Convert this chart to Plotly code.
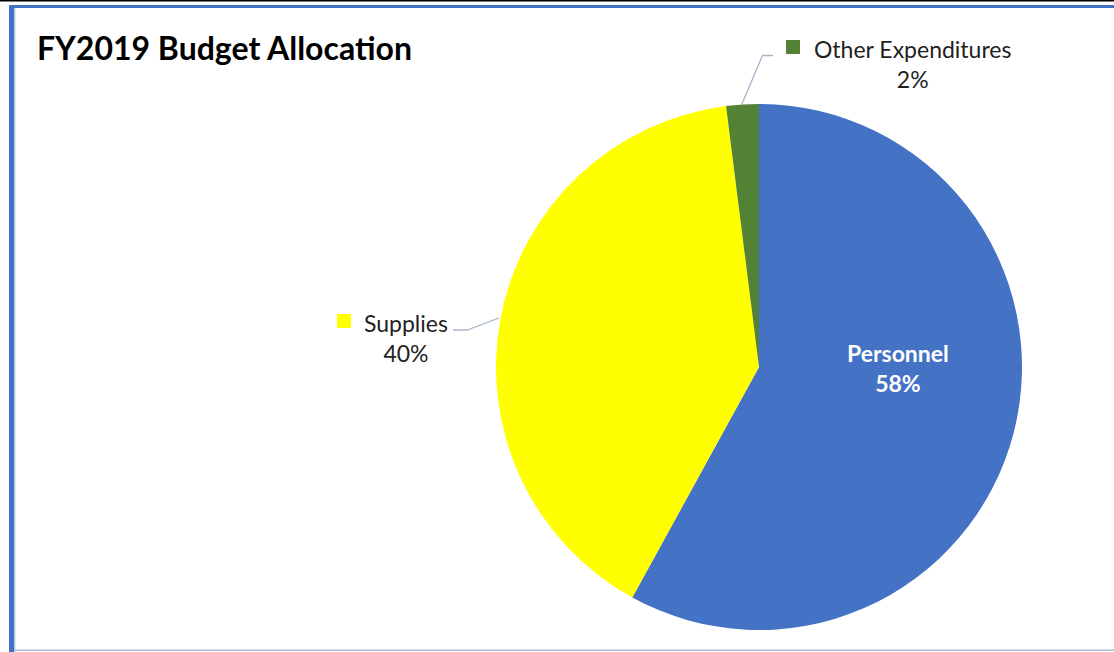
import plotly.graph_objects as go

W, H = 1114, 652

categories = ["Personnel", "Supplies", "Other Expenditures"]
values = [58, 40, 2]
colors = ["#4472C4", "#FFFF00", "#548235"]
title_text = "FY2019 Budget Allocation"

total = sum(values)
pct = [f"{round(v * 100 / total)}%" for v in values]

# pie geometry in pixels
cx, cy, r = 759, 367, 263


def px(x):
    return x / W


def py(y):
    return 1 - y / H


fig = go.Figure(
    go.Pie(
        labels=categories,
        values=values,
        marker=dict(colors=colors, line=dict(width=0)),
        sort=False,
        direction="clockwise",
        rotation=0,
        textinfo="none",
        hoverinfo="label+percent",
        showlegend=False,
        domain=dict(x=[px(cx - r), px(cx + r)], y=[py(cy + r), py(cy - r)]),
    )
)

FONT = "Lato"
TXT = "#1F1F1F"
LEAD = "#A6B6CB"

annotations = [
    dict(x=px(35), y=py(47), text=f"<b>{title_text}</b>", xanchor="left", yanchor="middle",
         font=dict(family=FONT, size=32, color="#000000")),
    # Personnel inside label
    dict(x=px(898), y=py(367.5), text=f"<b>{categories[0]}<br>{pct[0]}</b>", xanchor="center",
         yanchor="middle", font=dict(family=FONT, size=23, color="#FFFFFF")),
    # Supplies outside label
    dict(x=px(406), y=py(338.5), text=f"{categories[1]}<br>{pct[1]}", xanchor="center",
         yanchor="middle", font=dict(family=FONT, size=23, color=TXT)),
    # Other outside label
    dict(x=px(912), y=py(63.5), text=f"{categories[2]}<br>{pct[2]}", xanchor="center",
         yanchor="middle", font=dict(family=FONT, size=23, color=TXT)),
]
for a in annotations:
    a.update(xref="paper", yref="paper", showarrow=False, align="center")

shapes = []


def rect(x0, y0, x1, y1, color):
    shapes.append(dict(type="rect", xref="paper", yref="paper", x0=px(x0), x1=px(x1),
                       y0=py(y1), y1=py(y0), fillcolor=color, line=dict(width=0), layer="above"))


def path(points, color, width=1.3):
    d = "M " + " L ".join(f"{px(x)},{py(y)}" for x, y in points)
    shapes.append(dict(type="path", xref="paper", yref="paper", path=d,
                       line=dict(color=color, width=width)))


# frame
rect(0, 0, W, 1.5, "#000000")
rect(9, 5, W, 8, "#4472C4")
rect(9, 5, 14.5, H, "#4472C4")
rect(14.5, 8, 15.5, H, "#C9D6EE")
rect(14.5, 649.5, W, 651, "#AEB9D6")

# legend key squares
rect(786, 40, 800, 54, colors[2])
rect(337, 314, 351, 328, colors[1])

# leader lines
path([(741.5, 105), (762.5, 55.5), (773, 55.5)], LEAD)
path([(453, 330), (467, 330), (499, 318)], LEAD)

fig.update_layout(
    width=W,
    height=H,
    margin=dict(l=0, r=0, t=0, b=0),
    paper_bgcolor="#FFFFFF",
    plot_bgcolor="#FFFFFF",
    annotations=annotations,
    shapes=shapes,
)

fig.write_html("out.html")
